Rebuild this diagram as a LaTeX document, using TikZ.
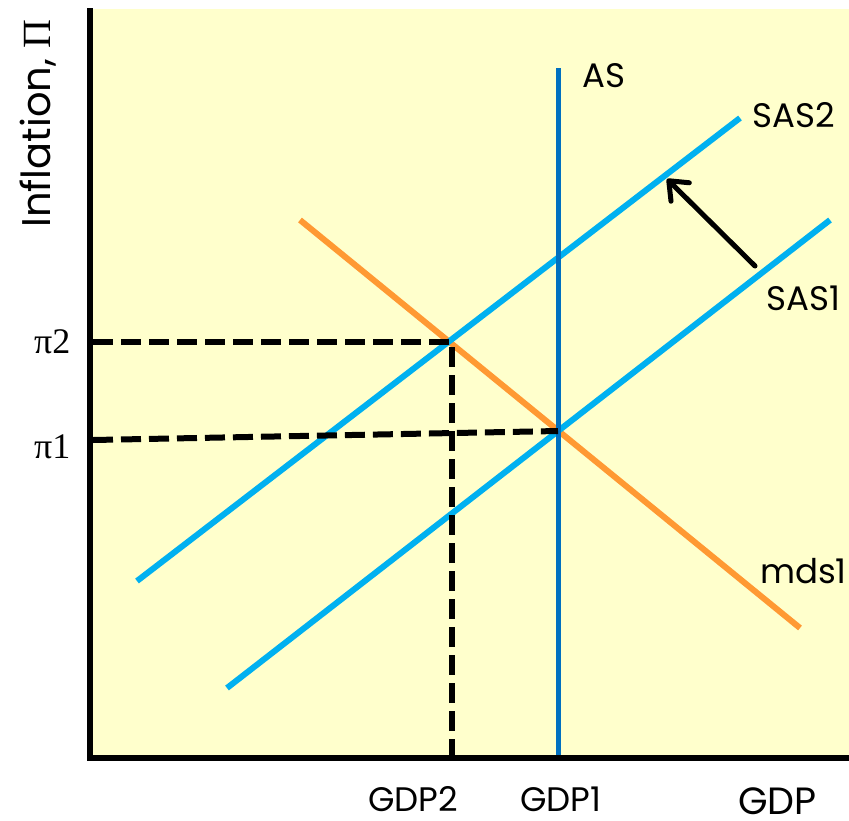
\documentclass[tikz,border=0pt]{standalone}
\usepackage{fontspec}
\setmainfont{Poppins}
\newfontfamily\serifgr{Liberation Serif}
\usetikzlibrary{arrows.meta}
\definecolor{bgyellow}{RGB}{255,255,204}
\definecolor{sasblue}{RGB}{0,176,240}
\definecolor{asblue}{RGB}{0,112,192}
\definecolor{mdsorange}{RGB}{255,153,51}
\tikzset{
  lbl/.style={inner sep=0pt, anchor=base west, text depth=0pt, font=\fontsize{34}{38}\selectfont},
  pilbl/.style={inner sep=0pt, anchor=base west, text depth=0pt, font=\serifgr\fontsize{36}{40}\selectfont},
  sasline/.style={sasblue, line width=6pt},
  asline/.style={asblue, line width=5pt},
  mdsline/.style={mdsorange, line width=6pt},
  guide/.style={black, line width=6pt, dash pattern=on 20pt off 8pt},
  axisline/.style={black, line width=6pt},
  shift arrow/.style={black, line width=5pt, line cap=round, -{Straight Barb[length=16pt,width=26pt,round]}}
}
\begin{document}
\begin{tikzpicture}[x=1pt,y=-1pt]
\useasboundingbox (0,0) rectangle (849,820);
\fill[bgyellow] (90,9) rectangle (849,758);
% coordinates
\coordinate (ytop) at (90,8);
\coordinate (origin) at (90,758);
\coordinate (xend) at (849,758);
\coordinate (s2a) at (137,581);
\coordinate (s2b) at (740,118);
\coordinate (s1a) at (227,688);
\coordinate (s1b) at (830,220);
\coordinate (ma) at (300,220);
\coordinate (mb) at (800,628);
\coordinate (asa) at (558,68);
\coordinate (asb) at (558,757);
\coordinate (e2) at (452,342);
\coordinate (e1) at (558,431);
\coordinate (p2ax) at (93,342);
\coordinate (p1ax) at (93,440);
\coordinate (g2ax) at (452,758);
\coordinate (arrtail) at (755,266);
\coordinate (arrtip) at (667,179);
% curves
\draw[mdsline] (ma) -- (mb);
\draw[sasline] (s2a) -- (s2b);
\draw[sasline] (s1a) -- (s1b);
\draw[asline] (asa) -- (asb);
% guides
\draw[guide] (p2ax) -- (e2) -- (g2ax);
\draw[guide] (p1ax) -- (e1);
% axes
\draw[axisline] (ytop) -- (origin) -- (xend);
% arrow
\draw[shift arrow] (arrtail) -- (arrtip);
% labels
\node[lbl] (asl) at (582,87) {AS};
\node[lbl] (sas2l) at (752,127) {SAS2};
\node[lbl] (sas1l) at (766,310) {SAS1};
\node[lbl] (mdsl) at (760,583) {mds1};
\node[lbl] (gdp2l) at (368,811) {GDP2};
\node[lbl] (gdp1l) at (520,811) {GDP1};
\node[lbl, font=\fontsize{38}{42}\selectfont] (gdpl) at (738,814) {GDP};
\node[pilbl] (pi2l) at (34,353) {π2};
\node[pilbl] (pi1l) at (34,458) {π1};
\node[lbl, rotate=90, font=\fontsize{40}{44}\selectfont] (infl) at (50,228) {Inflation, {\serifgr Π}};
\end{tikzpicture}
\end{document}
